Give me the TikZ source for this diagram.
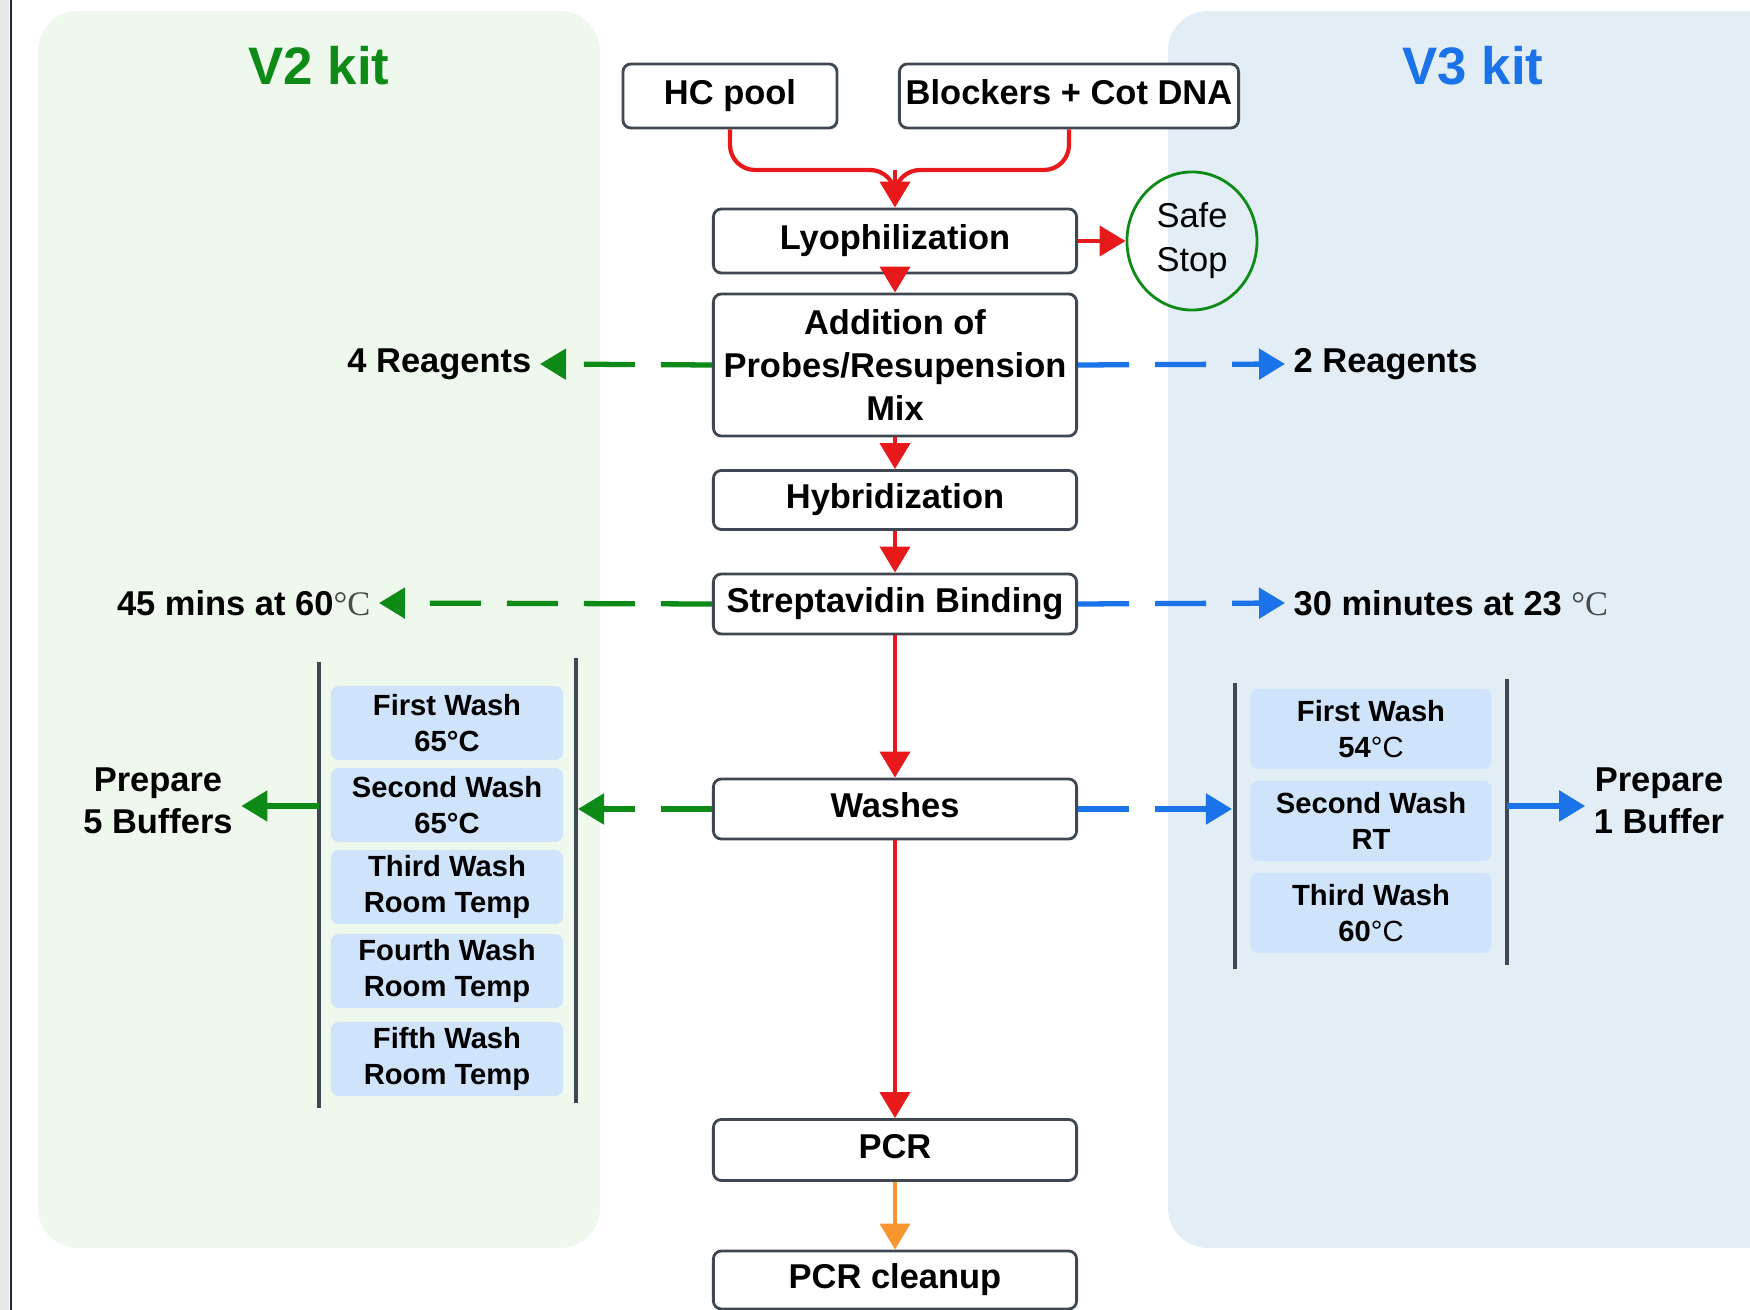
\documentclass[tikz,border=0pt]{standalone}
\usepackage{fontspec}
\setmainfont{Liberation Sans}
\newfontfamily\degfont{Liberation Serif}
\usetikzlibrary{arrows.meta,shapes.geometric}

\definecolor{vtwogreen}{HTML}{0E8A16}
\definecolor{vthreeblue}{HTML}{1A73E8}
\definecolor{stepred}{HTML}{E8191A}
\definecolor{pcrorange}{HTML}{F7952F}
\definecolor{boxgray}{HTML}{3F4753}
\definecolor{greenpanel}{HTML}{EEF8ED}
\definecolor{bluepanel}{HTML}{E2EDF5}
\definecolor{washfill}{HTML}{CFE3FB}
\definecolor{degray}{HTML}{4A4A4A}
\definecolor{stripgray}{HTML}{E8E8E8}
\definecolor{stripline}{HTML}{1B2A3A}

\begin{document}
\begin{tikzpicture}[x=0.01cm,y=-0.01cm]
            \tikzstyle{stepbox}=[draw=boxgray, line width=0.8pt, rounded corners=0.08cm, fill=white, minimum width=3.63cm, minimum height=0.6cm, inner sep=0pt, align=center, font=\bfseries\fontsize{9.8}{12.2}\selectfont]
            \tikzstyle{oneline}=[text height=0.72em, text depth=0.21em]
            \tikzstyle{washbox}=[fill=washfill, rounded corners=0.08cm, minimum width=2.32cm, minimum height=0.74cm, inner sep=0pt, align=center, font=\bfseries\fontsize{8.3}{10.2}\selectfont]
            \tikzstyle{sidelabel}=[inner sep=0.08cm, align=center, font=\bfseries\fontsize{9.8}{12}\selectfont]
            \tikzstyle{kittitle}=[inner sep=0pt, font=\bfseries\fontsize{15}{18}\selectfont]
            \tikzstyle{tip}=[-{Triangle[length=2.6mm,width=3mm]}]
            \tikzstyle{flow}=[draw=stepred, line width=1.2pt, tip]
            \tikzstyle{greendash}=[draw=vtwogreen, line width=1.5pt, dash pattern=on 0.51cm off 0.26cm, tip]
            \tikzstyle{bluedash}=[draw=vthreeblue, line width=1.5pt, dash pattern=on 0.51cm off 0.26cm, tip]
            \tikzstyle{barline}=[draw=boxgray, line width=0.9pt]
            \path[use as bounding box] (0,0) rectangle (1750,1310);
            % background panels
            \fill[stripgray] (0,0) rectangle (9,1310);
            \draw[stripline, line width=0.6pt] (11,0) -- (11,1310);
            \fill[greenpanel, rounded corners=0.4cm] (38,11) rectangle (600,1248);
            \fill[bluepanel, rounded corners=0.4cm] (1168,11) rectangle (1800,1248);
            \node[kittitle, text=vtwogreen] (vtwo) at (319,66) {V2 kit};
            \node[kittitle, text=vthreeblue] (vthree) at (1473,66) {V3 kit};
            % main steps
            \node[stepbox, oneline, minimum width=2.14cm, minimum height=0.64cm] (hc) at (730,96) {HC pool};
            \node[stepbox, oneline, minimum width=3.39cm, minimum height=0.64cm] (blk) at (1069,96) {Blockers + Cot DNA};
            \node[stepbox, oneline, minimum height=0.64cm] (lyo) at (895,241) {Lyophilization};
            \node[draw=vtwogreen, line width=0.8pt, ellipse, minimum width=1.3cm, minimum height=1.38cm, inner sep=0pt, align=center, font=\fontsize{9.8}{12.5}\selectfont] (safe) at (1192,241) {Safe\\Stop};
            \node[stepbox, minimum height=1.42cm] (add) at (895,365) {Addition of\\Probes/Resupension\\Mix};
            \node[stepbox, oneline, minimum height=0.59cm] (hyb) at (895,500) {Hybridization};
            \node[stepbox, oneline] (strep) at (895,604) {Streptavidin Binding};
            \node[stepbox, oneline] (washes) at (895,809) {Washes};
            \node[stepbox, oneline, minimum height=0.61cm] (pcr) at (895,1150) {PCR};
            \node[stepbox, oneline, minimum height=0.58cm] (cleanup) at (895,1280) {PCR cleanup};
            % red flow
            \coordinate (merge) at (895,170);
            \coordinate (mergelow) at (895,192);
            \draw[stepred, line width=1.2pt, rounded corners=0.25cm] (hc.south) |- (merge) -- (mergelow);
            \draw[stepred, line width=1.2pt, rounded corners=0.25cm] (blk.south) |- (merge) -- (mergelow);
            \draw[flow] (merge) -- (lyo.north);
            \draw[flow] (lyo) -- (safe);
            \draw[flow] (lyo) -- (add);
            \draw[flow] (add) -- (hyb);
            \draw[flow] (hyb) -- (strep);
            \draw[flow] (strep) -- (washes);
            \draw[flow] (washes) -- (pcr);
            \draw[flow, draw=pcrorange] (pcr) -- (cleanup);
            % kit side notes
            \node[sidelabel, anchor=east] (fourreag) at (540,364) {4 Reagents};
            \node[sidelabel, anchor=west] (tworeag) at (1285,364) {2 Reagents};
            \draw[greendash] (add.west) -- (fourreag.east);
            \draw[bluedash] (add.east) -- (tworeag.west);
            \node[sidelabel, anchor=east] (vtwotime) at (379,603) {45 mins at 60{\degfont\mdseries\color{degray}°C}};
            \node[sidelabel, anchor=west] (vthreetime) at (1285,603) {30 minutes at 23 {\degfont\mdseries\color{degray}°C}};
            \draw[greendash] (strep.west) -- (vtwotime.east);
            \draw[bluedash] (strep.east) -- (vthreetime.west);
            % V2 washes
            \draw[barline] (319,662) -- (319,1108);
            \draw[barline] (576,658) -- (576,1103);
            \node[washbox] (wtwoa) at (447,723) {First Wash\\65°C};
            \node[washbox] (wtwob) at (447,805) {Second Wash\\65°C};
            \node[washbox] (wtwoc) at (447,887) {Third Wash\\Room Temp};
            \node[washbox] (wtwod) at (447,971) {Fourth Wash\\Room Temp};
            \node[washbox] (wtwoe) at (447,1059) {Fifth Wash\\Room Temp};
            \coordinate (lbarin) at (578,809);
            \coordinate (lbarout) at (319,806);
            \node[sidelabel] (prepfive) at (158,801) {Prepare\\5 Buffers};
            \draw[greendash] (washes.west) -- (lbarin);
            \draw[draw=vtwogreen, line width=1.5pt, tip] (lbarout) -- (lbarout -| prepfive.east);
            % V3 washes
            \draw[barline] (1235,683) -- (1235,969);
            \draw[barline] (1507,679) -- (1507,965);
            \node[washbox, minimum width=2.41cm, minimum height=0.8cm] (wthreea) at (1371,729) {First Wash\\54{\mdseries°C}};
            \node[washbox, minimum width=2.41cm, minimum height=0.8cm] (wthreeb) at (1371,821) {Second Wash\\RT};
            \node[washbox, minimum width=2.41cm, minimum height=0.8cm] (wthreec) at (1371,913) {Third Wash\\60{\mdseries°C}};
            \coordinate (rbarin) at (1232,809);
            \coordinate (rbarout) at (1507,806);
            \node[sidelabel] (prepone) at (1659,801) {Prepare\\1 Buffer};
            \draw[bluedash] (washes.east) -- (rbarin);
            \draw[draw=vthreeblue, line width=1.5pt, tip] (rbarout) -- (rbarout -| prepone.west);
\end{tikzpicture}
\end{document}
